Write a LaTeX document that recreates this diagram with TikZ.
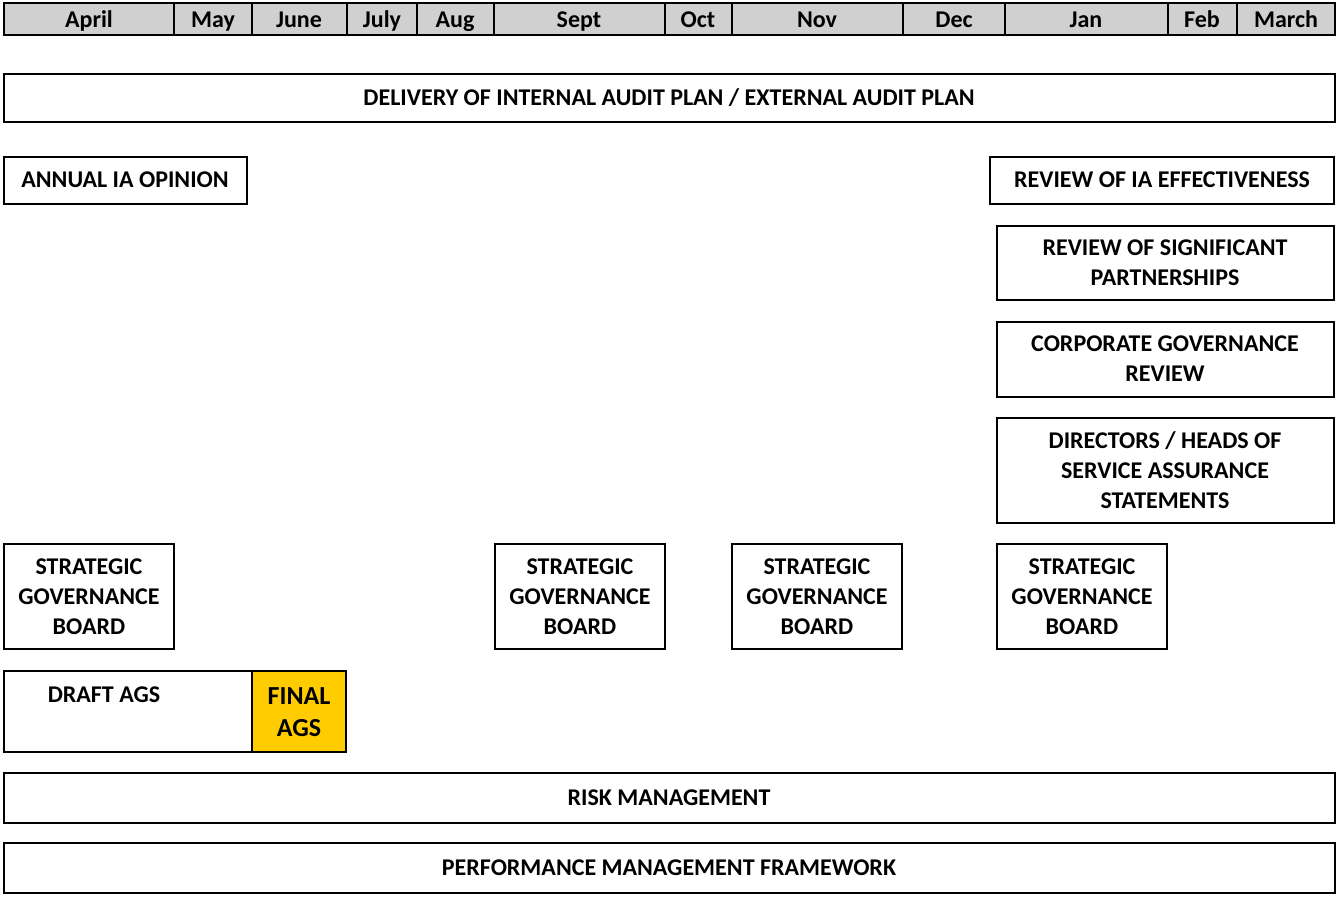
\documentclass[tikz,border=0pt]{standalone}
\usepackage{fontspec}
\setmainfont{Carlito}
\usepackage{xcolor}
\definecolor{headgray}{HTML}{D0D0D0}
\definecolor{agsgold}{HTML}{FFCC00}

\tikzset{
  box/.style={draw=black, line width=1pt},
  lbl/.style={align=center, inner sep=0pt, font=\bfseries\fontsize{12}{15}\selectfont},
}

\begin{document}
\begin{tikzpicture}[x=0.5pt, y=-0.5pt]
  \useasboundingbox (0,0) rectangle (1337,896);
  % month header
  \filldraw [box, fill=headgray] (4,3) rectangle (1335,35);
  \foreach \x in {174,252,347,417,494,665,732,903,1005,1168,1237}
    \draw [box] (\x,3) -- (\x,35);
  \foreach \m/\x in {April/89, May/213, June/299, July/382, Aug/455, Sept/579,
                     Oct/698, Nov/817, Dec/954, Jan/1086, Feb/1202, March/1286}
    \node [lbl, anchor=base] (\m) at (\x,27) {\m};

  % audit plan
  \draw [box] (4,74) rectangle (1335,122);
  \node [lbl] (delivery) at (669,98) {DELIVERY OF INTERNAL AUDIT PLAN / EXTERNAL AUDIT PLAN};

  \draw [box] (4,157) rectangle (247,204);
  \node [lbl] (opinion) at (125,180) {ANNUAL IA OPINION};
  \draw [box] (990,157) rectangle (1334,204);
  \node [lbl] (effective) at (1162,180) {REVIEW OF IA EFFECTIVENESS};

  % year end reviews
  \draw [box] (997,226) rectangle (1334,300);
  \node [lbl] (partners) at (1165,263) {REVIEW OF SIGNIFICANT\\PARTNERSHIPS};
  \draw [box] (997,322) rectangle (1334,397);
  \node [lbl] (corporate) at (1165,359) {CORPORATE GOVERNANCE\\REVIEW};
  \draw [box] (997,418) rectangle (1334,523);
  \node [lbl] (directors) at (1165,470) {DIRECTORS / HEADS OF\\SERVICE ASSURANCE\\STATEMENTS};

  % board meetings
  \foreach \n/\x in {1/4, 2/495, 3/732, 4/997} {
    \draw [box] (\x,544) rectangle ++(170,105);
    \node [lbl] (sgb\n) at (\x+85,597) {STRATEGIC\\GOVERNANCE\\BOARD};
  }

  % governance statement
  \draw [box] (4,671) rectangle (252,752);
  \node [lbl] (draft) at (104,695) {DRAFT AGS};
  \filldraw [box, fill=agsgold] (252,671) rectangle (346,752);
  \node [lbl, font=\bfseries\fontsize{13}{16}\selectfont] (final) at (299,712) {FINAL\\AGS};

  \draw [box] (4,773) rectangle (1335,823);
  \node [lbl] (risk) at (669,798) {RISK MANAGEMENT};
  \draw [box] (4,843) rectangle (1335,893);
  \node [lbl] (perf) at (669,868) {PERFORMANCE MANAGEMENT FRAMEWORK};
\end{tikzpicture}
\end{document}
